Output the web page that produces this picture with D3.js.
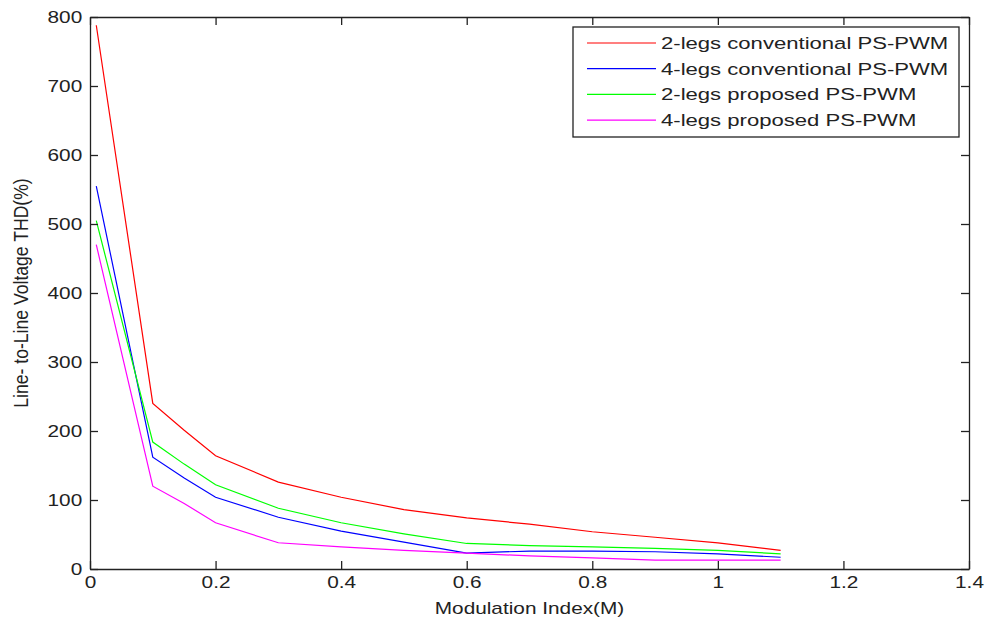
<!DOCTYPE html>
<html>
<head>
<meta charset="utf-8">
<script src="https://cdnjs.cloudflare.com/ajax/libs/d3/7.8.5/d3.min.js"></script>
<style>
  body { margin:0; background:#fff; }
  svg text { font-family: "Liberation Sans", Arial, sans-serif; fill:#222; }
</style>
</head>
<body>
<svg id="chart" width="987" height="622"></svg>
<script>
// modulation index values
var mIndex = [0.01, 0.1, 0.15, 0.2, 0.3, 0.4, 0.5, 0.6, 0.7, 0.8, 0.9, 1.0, 1.1];

var twoLegsConv  = [788, 240, 201, 164, 126, 104, 86, 74, 65, 54, 46, 38, 27];
var fourLegsConv = [555, 162, 132, 104, 75, 55, 39, 23, 26, 26, 25, 22, 17];
var twoLegsProp  = [505, 184, 152, 122, 88, 67, 51, 37, 34, 32, 30, 27, 22];
var fourLegsProp = [470, 120, 95, 67, 38, 32, 27, 23, 19, 16, 13, 13, 13];

var seriesNames = ["2-legs conventional PS-PWM", "4-legs conventional PS-PWM",
                   "2-legs proposed PS-PWM", "4-legs proposed PS-PWM"];
var seriesColors = ["#ff0000", "#0000ff", "#00ff00", "#ff00ff"];
var seriesData = [twoLegsConv, fourLegsConv, twoLegsProp, fourLegsProp];

var xTicks = [0, 0.2, 0.4, 0.6, 0.8, 1, 1.2, 1.4];
var yTicks = [0, 100, 200, 300, 400, 500, 600, 700, 800];

var mg = { left: 90, right: 969, top: 17, bottom: 569 };
var stretch = 1.3;   // the picture is wider than tall, text looks stretched

var svg = d3.select("#chart");

var x = d3.scaleLinear().domain([0, 1.4]).range([mg.left, mg.right]);
var y = d3.scaleLinear().domain([0, 800]).range([mg.bottom, mg.top]);

// lines
var line = d3.line()
  .x(function(d, i) { return x(mIndex[i]); })
  .y(function(d) { return y(d); });

svg.selectAll("path.serie")
  .data(seriesData).enter()
  .append("path")
    .attr("class", "serie")
    .attr("d", line)
    .attr("fill", "none")
    .attr("stroke", function(d, i) { return seriesColors[i]; })
    .attr("stroke-width", 1.2);

// axes (box, ticks inward)
var fmt = function(d) { return d3.format("")(d); };

svg.append("g")
  .attr("transform", "translate(0," + mg.bottom + ")")
  .call(d3.axisBottom(x).tickValues(xTicks).tickFormat(fmt).tickSizeInner(-8).tickSizeOuter(0).tickPadding(8))
  .call(styleAxis);

svg.append("g")
  .attr("transform", "translate(0," + mg.top + ")")
  .call(d3.axisTop(x).tickValues(xTicks).tickFormat("").tickSizeInner(-8).tickSizeOuter(0))
  .call(styleAxis);

svg.append("g")
  .attr("transform", "translate(" + mg.left + ",0)")
  .call(d3.axisLeft(y).tickValues(yTicks).tickSizeInner(-8).tickSizeOuter(0).tickPadding(6))
  .call(styleAxis);

svg.append("g")
  .attr("transform", "translate(" + mg.right + ",0)")
  .call(d3.axisRight(y).tickValues(yTicks).tickFormat("").tickSizeInner(-8).tickSizeOuter(0))
  .call(styleAxis);

function styleAxis(g) {
  g.select(".domain").attr("stroke", "#222").attr("stroke-width", 1.3);
  g.selectAll(".tick line").attr("stroke", "#222").attr("stroke-width", 1.3);
  g.selectAll(".tick text")
    .attr("font-size", 16)
    .attr("fill", "#222")
    .attr("transform", "scale(" + stretch + ",1)");
}

// axis labels
svg.append("text")
  .attr("transform", "translate(" + ((mg.left + mg.right) / 2) + ",614) scale(" + stretch + ",1)")
  .attr("text-anchor", "middle")
  .attr("font-size", 16)
  .text("Modulation Index(M)");

svg.append("text")
  .attr("transform", "translate(28," + ((mg.top + mg.bottom) / 2) + ") rotate(-90) scale(1.1," + stretch + ")")
  .attr("text-anchor", "middle")
  .attr("font-size", 16)
  .text("Line- to-Line Voltage THD(%)");

// legend
var legend = svg.append("g").attr("transform", "translate(573,27)");

legend.append("rect")
  .attr("width", 386).attr("height", 110)
  .attr("fill", "#fff")
  .attr("stroke", "#222")
  .attr("stroke-width", 1.3);

var items = legend.selectAll("g.item")
  .data(seriesNames).enter()
  .append("g")
    .attr("class", "item")
    .attr("transform", function(d, i) { return "translate(0," + (16 + i * 25.7) + ")"; });

items.append("line")
  .attr("x1", 14).attr("x2", 83)
  .attr("stroke", function(d, i) { return seriesColors[i]; })
  .attr("stroke-width", 1.2);

items.append("text")
  .attr("transform", "translate(88,0) scale(" + stretch + ",1)")
  .attr("dy", "0.35em")
  .attr("font-size", 17)
  .text(function(d) { return d; });
</script>
</body>
</html>
